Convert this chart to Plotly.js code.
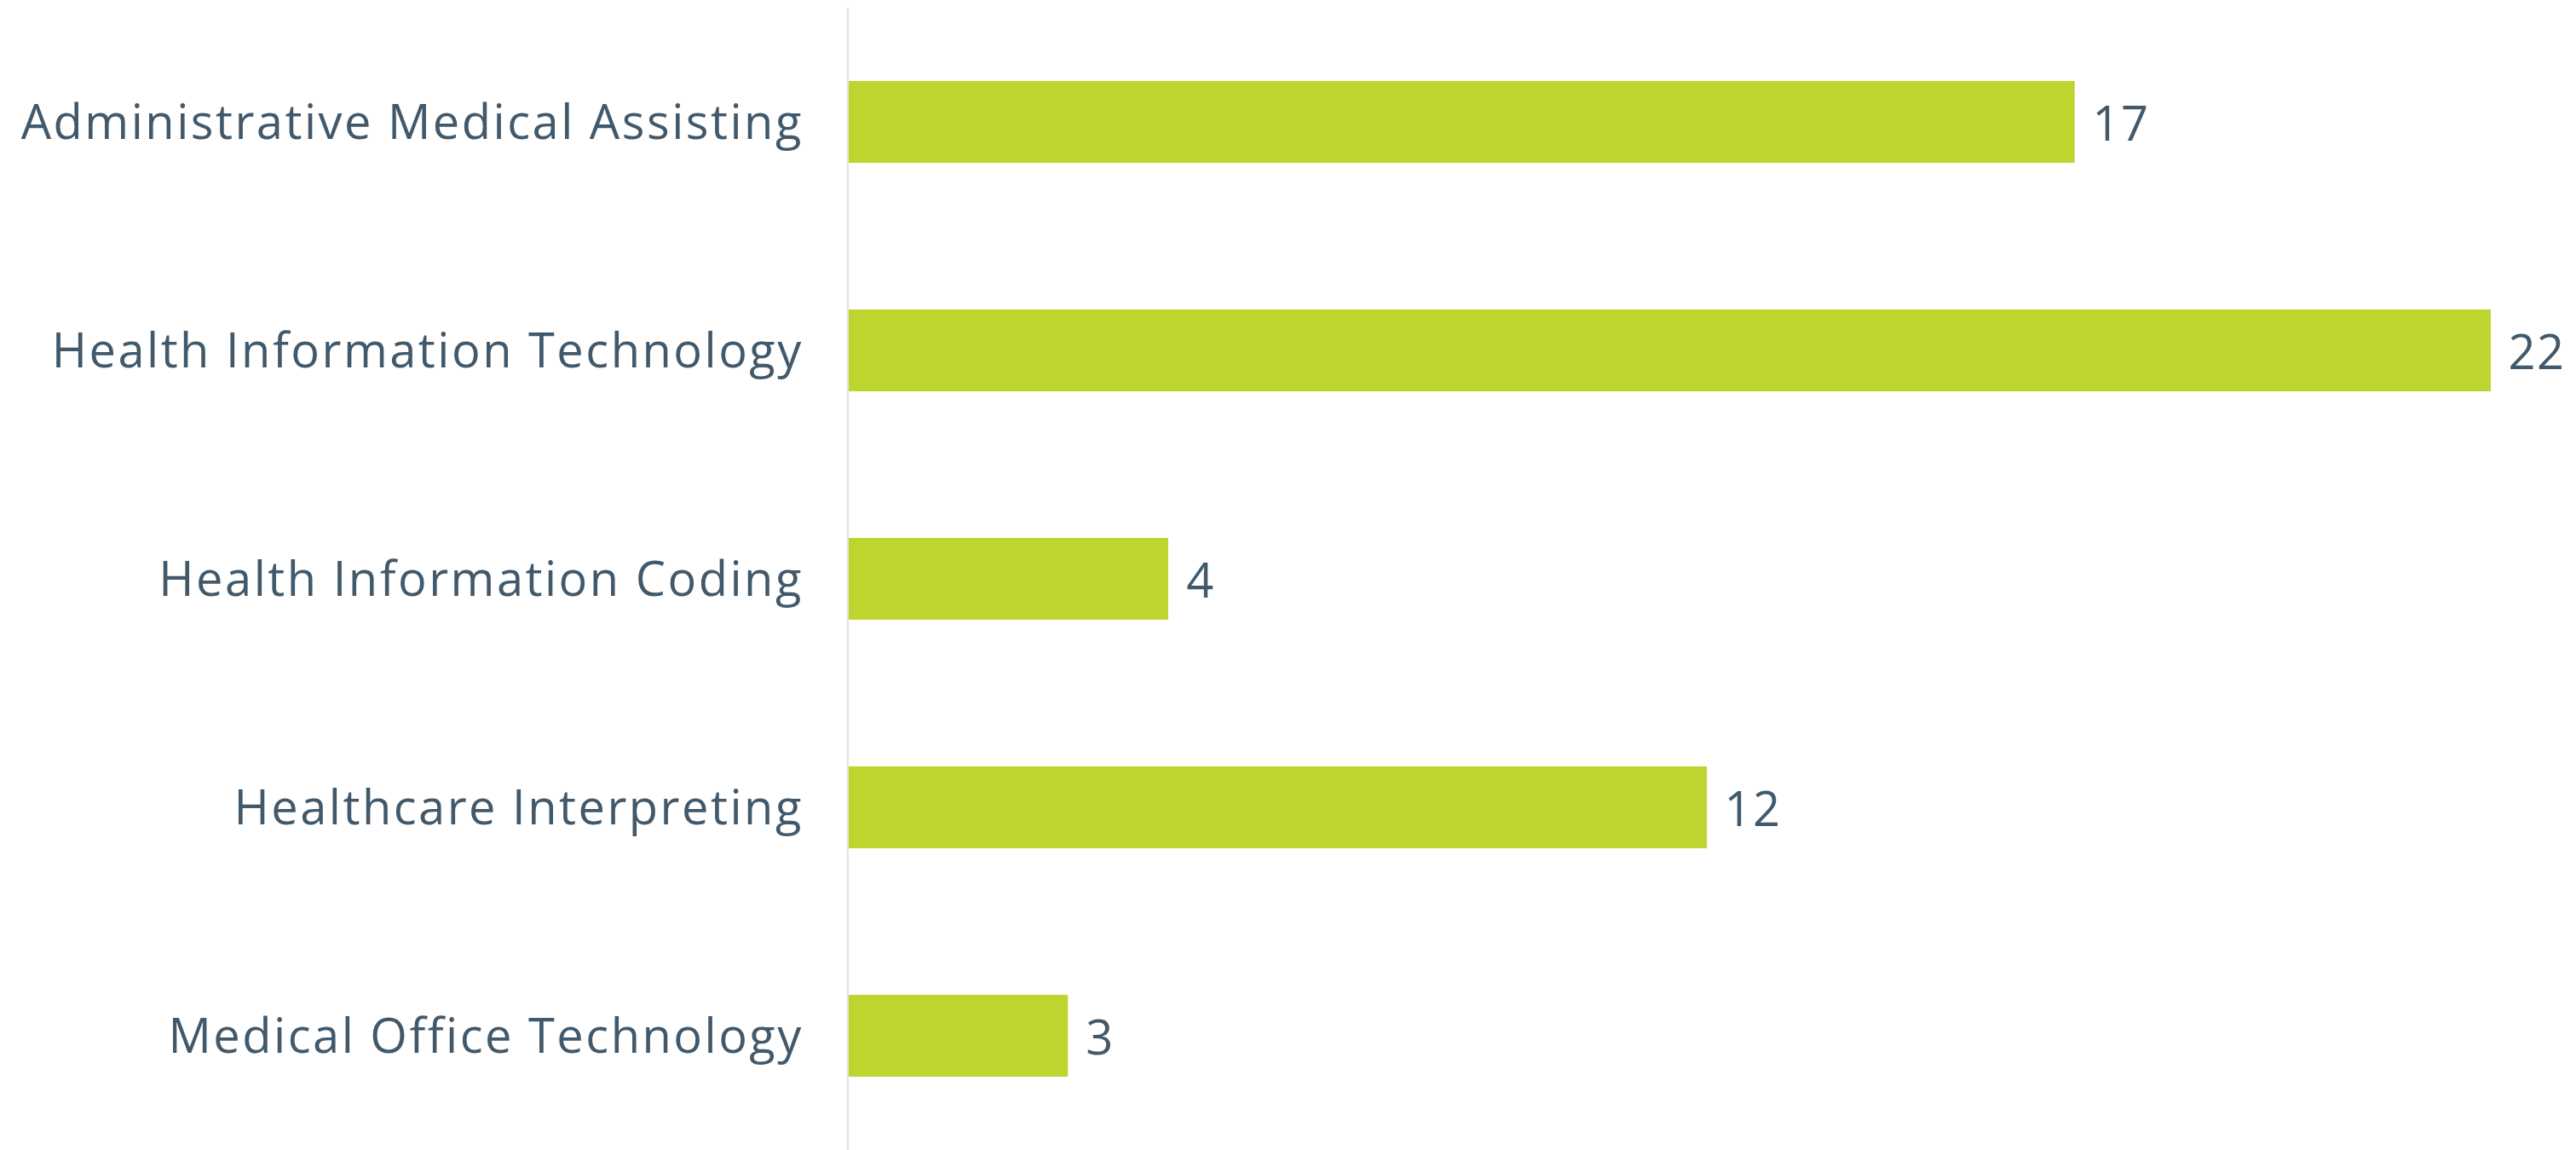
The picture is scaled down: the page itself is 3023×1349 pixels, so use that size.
<!DOCTYPE html>
<html>
<head>
<meta charset="utf-8">
<script src="https://cdn.plot.ly/plotly-3.0.1.min.js"></script>
<style>
  html, body { margin: 0; padding: 0; background: #ffffff; }
  #chart { width: 3023px; height: 1349px; }
  #chart .ytick text { letter-spacing: 2.5px; }
  #chart .annotation-text { letter-spacing: 1.5px; }
</style>
</head>
<body>
<div id="chart"></div>
<script>
const categories = [
  "Administrative Medical Assisting",
  "Health Information Technology",
  "Health Information Coding",
  "Healthcare Interpreting",
  "Medical Office Technology"
];
const values = [16.5, 22.1, 4.3, 11.55, 2.95];
const labels = ["17", "22", "4", "12", "3"];

const barColor = "#bed42f";
const textColor = "#41596b";
const fontFamily = "'Open Sans', 'DejaVu Sans', sans-serif";
const fontSize = 56;

const trace = {
  type: "bar",
  orientation: "h",
  x: values,
  y: categories,
  marker: { color: barColor, line: { width: 0 } },
  hoverinfo: "none"
};

const annotations = categories.map((c, i) => ({
  x: values[i],
  y: c,
  xref: "x",
  yref: "y",
  text: labels[i],
  showarrow: false,
  xanchor: "left",
  yanchor: "middle",
  xshift: 20,
  font: { family: fontFamily, size: fontSize, color: textColor }
}));

const layout = {
  width: 3023,
  height: 1349,
  margin: { l: 996, r: 100, t: 9, b: 0 },
  paper_bgcolor: "#ffffff",
  plot_bgcolor: "#ffffff",
  showlegend: false,
  bargap: 0.642,
  font: { family: fontFamily, size: fontSize, color: textColor },
  xaxis: {
    range: [0, 22.1],
    showgrid: false,
    zeroline: false,
    showline: false,
    showticklabels: false,
    ticks: ""
  },
  yaxis: {
    type: "category",
    autorange: "reversed",
    showgrid: false,
    zeroline: false,
    showline: true,
    linecolor: "#e2e2e2",
    linewidth: 2,
    ticks: "",
    ticklabelstandoff: 40,
    tickfont: { family: fontFamily, size: fontSize, color: textColor }
  },
  annotations: annotations
};

Plotly.newPlot("chart", [trace], layout, { displayModeBar: false, staticPlot: true });
</script>
</body>
</html>
